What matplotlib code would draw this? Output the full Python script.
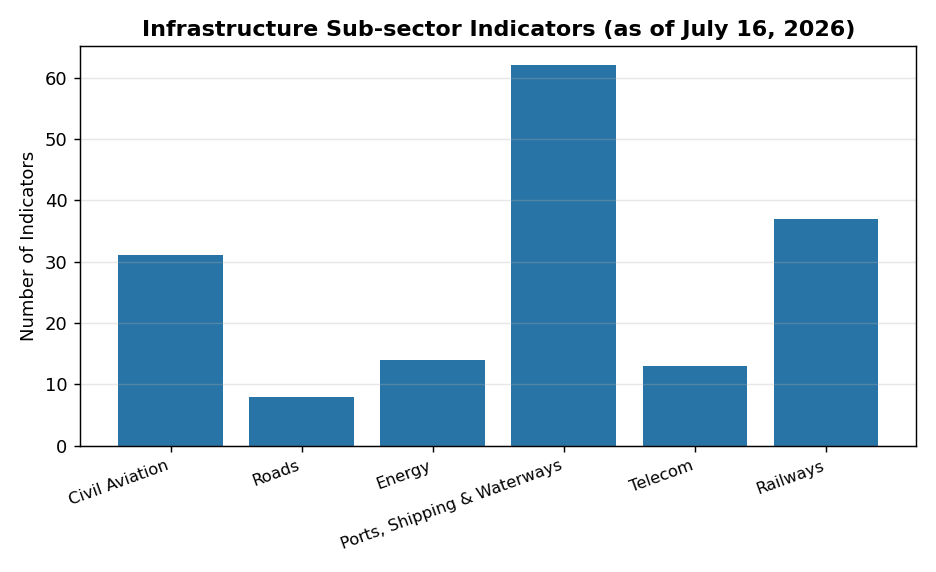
import matplotlib
matplotlib.use("Agg")
import matplotlib.pyplot as plt

categories = ["Civil Aviation", "Roads", "Energy", "Ports, Shipping & Waterways", "Telecom", "Railways"]
counts = [31, 8, 14, 62, 13, 37]
title = "Infrastructure Sub-sector Indicators (as of July 16, 2026)"
ylabel = "Number of Indicators"

fig, ax = plt.subplots(figsize=(7.2, 4.4), dpi=130)
ax.bar(categories, counts, color="#2874a6")
ax.set_title(title, fontsize=12.3, fontweight="bold")
ax.set_ylabel(ylabel)
ax.grid(axis="y", alpha=0.3)
plt.setp(ax.get_xticklabels(), rotation=20, ha="right", fontsize=9)
fig.tight_layout()
fig.savefig("out.png", dpi=130)
